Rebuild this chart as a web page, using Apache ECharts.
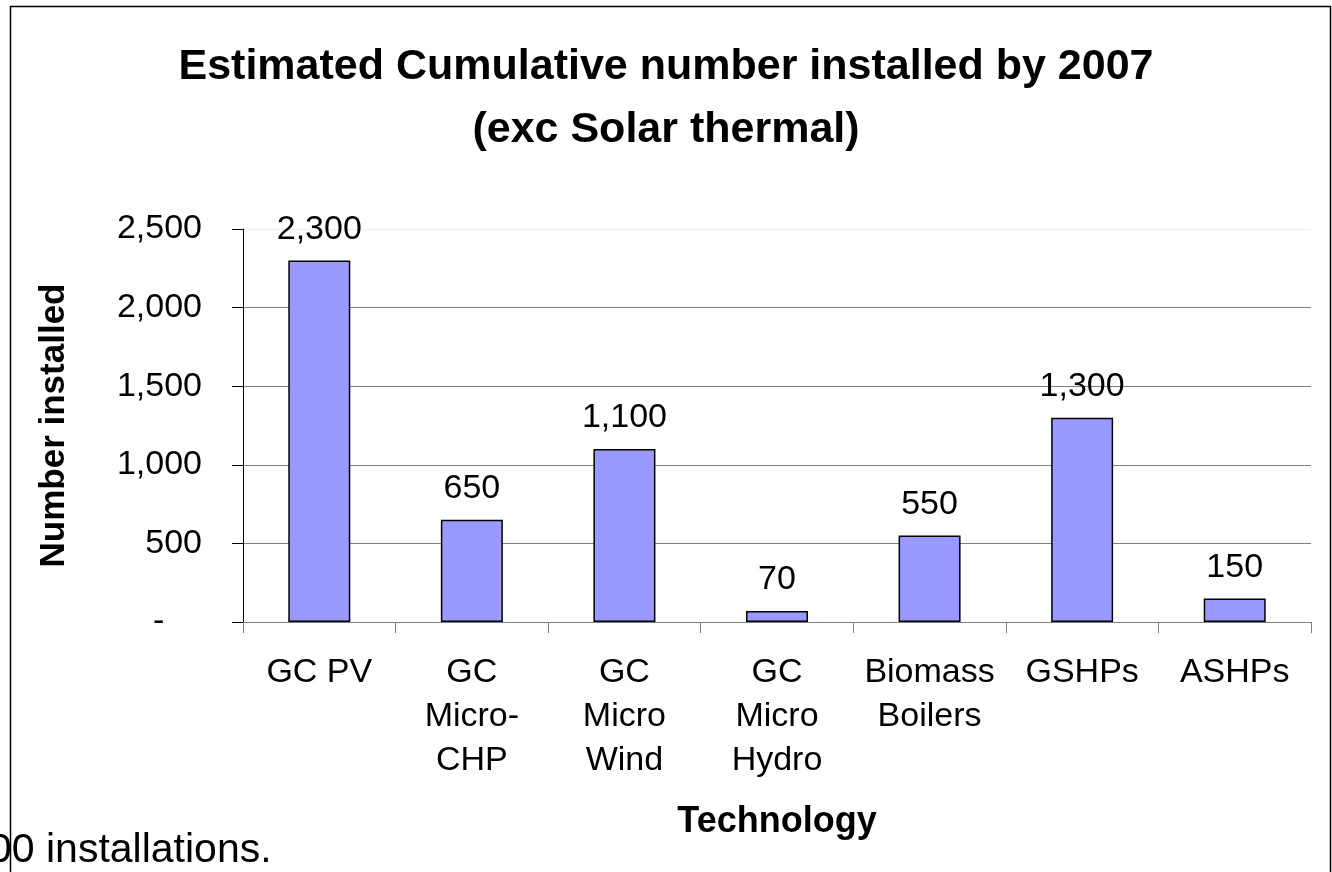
<!DOCTYPE html>
<html>
<head>
<meta charset="utf-8">
<script src="https://cdn.jsdelivr.net/npm/echarts@6/dist/echarts.min.js"></script>
<style>
  html, body { margin: 0; padding: 0; background: #fff; }
  #chart { width: 1332px; height: 872px; }
</style>
</head>
<body>
<div id="chart"></div>
<script>
// chart data
var categories = ['GC PV', 'GC\nMicro-\nCHP', 'GC\nMicro\nWind', 'GC\nMicro\nHydro', 'Biomass\nBoilers', 'GSHPs', 'ASHPs'];
var installed = [2300, 650, 1100, 70, 550, 1300, 150];
var yTicks = [0, 500, 1000, 1500, 2000, 2500];

var font = 'Liberation Sans, Arial, sans-serif';
var fmt = function (v) { return Number(v).toLocaleString('en-US'); };

var myChart = echarts.init(document.getElementById('chart'));
myChart.setOption({
    backgroundColor: '#fff',
    animation: false,
    title: {
        text: 'Estimated Cumulative number installed by 2007\n(exc Solar thermal)',
        left: 'center',
        top: 31,
        textStyle: { fontFamily: font, fontSize: 43, fontWeight: 'bold', lineHeight: 63, color: '#000' }
    },
    graphic: [
        {   // outer frame
            type: 'rect',
            shape: { x: 10.5, y: 6.5, width: 1320, height: 900 },
            style: { fill: null, stroke: '#000', lineWidth: 1.5 },
            z: 0
        },
        {   // stray slide text below the chart
            type: 'text',
            left: -11,
            top: 830,
            style: { text: '00 installations.', font: '41px ' + font, fill: '#000' },
            z: 10
        }
    ],
    grid: { left: 243, right: 21, top: 229, bottom: 250, containLabel: false },
    xAxis: {
        type: 'category',
        data: categories,
        name: 'Technology',
        nameLocation: 'middle',
        nameGap: 182,
        nameTextStyle: { fontFamily: font, fontSize: 36, fontWeight: 'bold', color: '#000' },
        axisLine: { lineStyle: { color: '#808080', width: 1 } },
        axisTick: { show: true, length: 11, lineStyle: { color: '#808080' } },
        axisLabel: {
            interval: 0,
            margin: 29,
            fontFamily: font,
            fontSize: 34,
            lineHeight: 44,
            color: '#000'
        }
    },
    yAxis: {
        type: 'value',
        min: 0,
        max: 2500,
        interval: 500,
        name: 'Number installed',
        nameLocation: 'middle',
        nameGap: 171,
        nameRotate: 90,
        nameTextStyle: { fontFamily: font, fontSize: 35, fontWeight: 'bold', color: '#000' },
        axisLine: { show: true, lineStyle: { color: '#000', width: 1 } },
        axisTick: { show: true, length: 11, lineStyle: { color: '#000' } },
        axisLabel: {
            margin: 41,
            fontFamily: font,
            fontSize: 34,
            color: '#000',
            formatter: function (v) {
                return v === 0 ? '-    ' : fmt(v);
            }
        },
        splitLine: {
            show: true,
            lineStyle: { color: ['#808080', '#808080', '#808080', '#808080', '#808080', '#eeeeee'], width: 1 }
        }
    },
    series: [
        {
            name: 'Number installed',
            type: 'bar',
            data: installed,
            barWidth: 62,
            itemStyle: { color: '#9999FF', borderColor: '#000', borderWidth: 1.5 },
            label: {
                show: true,
                position: 'top',
                distance: 14,
                fontFamily: font,
                fontSize: 34,
                color: '#000',
                formatter: function (p) { return fmt(p.value); }
            }
        }
    ]
});
</script>
</body>
</html>
